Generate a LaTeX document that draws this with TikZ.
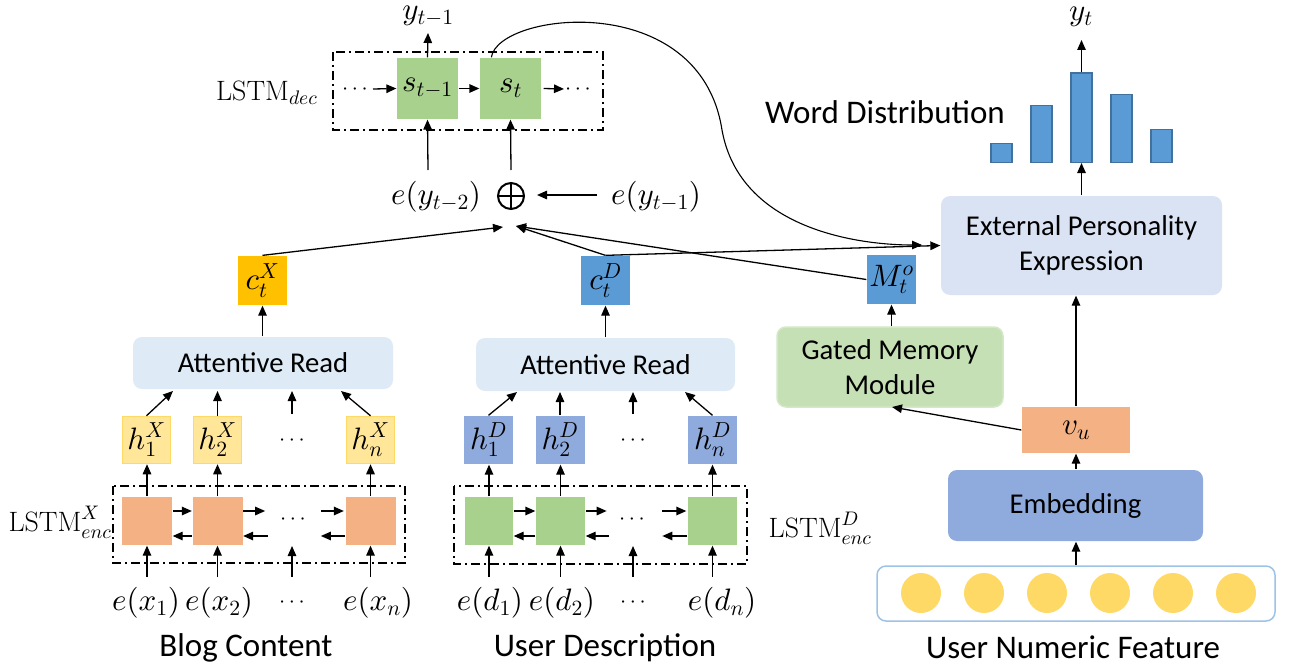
\documentclass[tikz,border=0pt]{standalone}
\usepackage{fontspec}
\DeclareFontShape{OML}{cmm}{m}{it}{<->cmmi10}{}
\DeclareFontShape{OMS}{cmsy}{m}{n}{<->cmsy10}{}
\DeclareFontShape{OMX}{cmex}{m}{n}{<->cmex10}{}
\DeclareFontShape{OT1}{cmr}{m}{n}{<->cmr10}{}
\newfontfamily\carl{Carlito}
\usetikzlibrary{arrows.meta}
\definecolor{sgreen}{HTML}{A9D18E}
\definecolor{arblue}{HTML}{DEEBF7}
\definecolor{epblue}{HTML}{DAE3F3}
\definecolor{midblue}{HTML}{5B9BD5}
\definecolor{bardraw}{HTML}{41719C}
\definecolor{embblue}{HTML}{8FAADC}
\definecolor{cxorange}{HTML}{FFC000}
\definecolor{lorange}{HTML}{F4B183}
\definecolor{hyellow}{HTML}{FFE699}
\definecolor{hyborder}{HTML}{FFD966}
\definecolor{gmmgreen}{HTML}{C5E0B4}
\definecolor{gmmborder}{HTML}{D3E8C6}
\definecolor{featborder}{HTML}{9DC3E6}
\definecolor{circfill}{HTML}{FFD966}
\begin{document}
\begin{tikzpicture}[x=1pt,y=-1pt,line width=1.3pt,
  >={Triangle[length=10pt,width=8.5pt]},
  mth/.style={font=\fontsize{31}{36}\selectfont, inner sep=0pt},
  dotsst/.style={font=\fontsize{22}{26}\selectfont, inner sep=0pt},
  lstmlbl/.style={font=\fontsize{28}{34}\selectfont, inner sep=0pt},
  txt/.style={font=\carl\fontsize{28.7}{34.5}\selectfont, align=center},
  bigtxt/.style={font=\carl\fontsize{33}{40}\selectfont, inner sep=0pt},
  sq/.style={minimum width=49pt, minimum height=49pt, inner sep=0pt, font=\fontsize{31}{36}\selectfont},
  dashbox/.style={draw, line width=2pt, dash pattern=on 9pt off 4pt on 2pt off 4pt},
  rbox/.style={rounded corners=9pt, inner sep=0pt},
  barbox/.style={fill=midblue, draw=bardraw, line width=1.5pt, minimum width=21pt, inner sep=0pt, anchor=south},
]
\useasboundingbox (0,0) rectangle (1290,669);

% ---------------- decoder ----------------
\draw[dashbox] (333,52) rectangle (603,130);
\node[sq, fill=sgreen, minimum width=61pt, minimum height=61pt] (s1) at (427.5,88.5) {$s_{t-1}$};
\node[sq, fill=sgreen, minimum width=61pt, minimum height=61pt] (s2) at (510.5,88.5) {$s_t$};
\node[dotsst] (dl) at (355,90) {$\cdots$};
\node[dotsst] (dr) at (578,90) {$\cdots$};
\node[lstmlbl, anchor=east] (ldec) at (318,93) {$\mathrm{LSTM}_{dec}$};
\node[mth] (ytm1) at (428,16) {$y_{t-1}$};
\coordinate (ytm1a) at (428,33);
\coordinate (dla) at (373,89);
\coordinate (dra) at (564,89);
\draw[->] (dla) -- (s1.west);
\draw[->] (s1.east) -- (s2.west);
\draw[->] ([xshift=2pt]s2.east) -- (dra);
\draw[->] (s1.north) -- (ytm1a);

\node[mth] (ey2) at (436,197) {$e(y_{t-2})$};
\node[mth] (ey1) at (656,197) {$e(y_{t-1})$};
\node[circle, draw, line width=2pt, minimum size=26pt, inner sep=0pt] (plus) at (511,196) {};
\draw[line width=2pt] (plus.north) -- (plus.south) (plus.west) -- (plus.east);
\coordinate (ey2a) at (428,170);
\coordinate (plusa) at (511,170);
\coordinate (ey1a) at (597,195);
\coordinate (plusr) at (537,195);
\draw[->] (ey2a) -- (s1.south);
\draw[->] (plusa) -- (s2.south);
\draw[->] (ey1a) -- (plusr);

% ---------------- context vectors ----------------
\node[sq, fill=cxorange] (cX) at (262.5,280.5) {$c_t^X$};
\node[sq, fill=midblue] (cD) at (605.5,280.5) {$c_t^D$};
\node[sq, fill=midblue] (M) at (891.5,279.5) {$M_t^o$};
\coordinate (pl) at (503,227);
\coordinate (pr) at (516,226);
\draw[->] (cX.north) -- (pl);
\draw[->] (cD.north) -- (pr);
\draw[->] (M.west) -- (pr);

% ---------------- EPE & distribution ----------------
\node[rbox, fill=epblue, minimum width=281pt, minimum height=99pt, txt] (EPE) at (1081.5,245.5) {External Personality\\[0pt]Expression};
\draw[->] (cD.north) -- (EPE.west);
\coordinate (curveend) at (922,245);
\draw[->, line width=1.1pt] ([xshift=12pt]s2.north west) .. controls (498,12) and (700,-12) .. (722,130)
   .. controls (740,230) and (860,245) .. (curveend);

\node[barbox, minimum height=19pt] (b1) at (1001.5,163) {};
\node[barbox, minimum height=57pt] (b2) at (1041.5,163) {};
\node[barbox, minimum height=89pt] (b3) at (1081.5,163) {};
\node[barbox, minimum height=68pt] (b4) at (1121.5,163) {};
\node[barbox, minimum height=33pt] (b5) at (1161.5,163) {};
\node[mth] (yt) at (1081,17) {$y_t$};
\coordinate (yta) at (1081.5,40);
\draw[->] (EPE.north) -- (b3.south);
\draw[->] (b3.north) -- (yta);
\node[bigtxt] (wd) at (885,112) {Word Distribution};

% ---------------- user numeric branch ----------------
\node[rbox, fill=gmmgreen, draw=gmmborder, line width=1.5pt, minimum width=226pt, minimum height=80pt, txt] (GMM) at (890,367) {Gated Memory\\[0pt]Module};
\node[sq, fill=lorange, minimum width=108pt, minimum height=46pt] (vu) at (1076,430) {$v_u$};
\node[rbox, fill=embblue, minimum width=255pt, minimum height=71pt, txt] (Emb) at (1075.5,505.5) {Embedding};
\node[rbox, draw=featborder, line width=1.5pt, fill=white, minimum width=398pt, minimum height=55pt] (Feat) at (1076,593.5) {};
\foreach \i in {0,...,5} {
  \node[circle, fill=circfill, minimum size=40pt, inner sep=0pt] (f\i) at (921+63*\i,593) {};
}
\node[bigtxt] (unf) at (1073,647) {User Numeric Feature};
\draw[->] (Feat.north) -- (Feat.north |- Emb.south);
\draw[->] (Emb.north -| vu.north) -- (vu.south);
\draw[->] (vu.north) -- (vu.north |- EPE.south);
\coordinate (gmmb) at (892,407);
\draw[->] (vu.west) -- (gmmb);
\draw[->] (GMM.north -| M.south) -- (M.south);

% ---------------- blog content encoder ----------------
\node[rbox, fill=arblue, minimum width=260pt, minimum height=52pt, txt] (AR1) at (263,363) {Attentive Read};
\draw[->] (AR1.north -| cX.south) -- (cX.south);
\draw[dashbox] (113,486) rectangle (405,563);
\node[sq, fill=lorange, minimum width=50pt, minimum height=48pt] (LX1) at (147,521) {};
\node[sq, fill=lorange, minimum width=50pt, minimum height=48pt] (LX2) at (217.5,521) {};
\node[sq, fill=lorange, minimum width=50pt, minimum height=48pt] (LXn) at (370.5,521) {};
\node[dotsst] (LXd) at (293,520) {$\cdots$};
\node[sq, fill=hyellow, draw=hyborder, line width=1.5pt, minimum width=48pt, minimum height=47pt] (hX1) at (146.5,440) {$h_1^X$};
\node[sq, fill=hyellow, draw=hyborder, line width=1.5pt, minimum width=48pt, minimum height=47pt] (hX2) at (217.5,440) {$h_2^X$};
\node[sq, fill=hyellow, draw=hyborder, line width=1.5pt, minimum width=48pt, minimum height=47pt] (hXn) at (370.5,440) {$h_n^X$};
\node[dotsst] (hXd) at (292,441) {$\cdots$};
\node[lstmlbl, anchor=east] (lx) at (112,522) {$\mathrm{LSTM}_{enc}^{X}$};
\draw[->] ([yshift=10pt]LX1.east) -- ([yshift=10pt]LX2.west);
\draw[->] ([yshift=-15pt]LX2.west) -- ([yshift=-15pt]LX1.east);
\draw[->] ([yshift=10pt]LX2.east) -- ([yshift=10pt,xshift=22pt]LX2.east);
\draw[->] ([yshift=-15pt,xshift=25pt]LX2.east) -- ([yshift=-15pt]LX2.east);
\draw[->] ([yshift=10pt,xshift=-24pt]LXn.west) -- ([yshift=10pt,xshift=-1pt]LXn.west);
\draw[->] ([yshift=-15pt]LXn.west) -- ([yshift=-15pt,xshift=-24pt]LXn.west);
\draw[->] (LX1.north) -- (hX1.south -| LX1.north);
\draw[->] (LX2.north) -- (hX2.south -| LX2.north);
\draw[->] (LXn.north) -- (hXn.south -| LXn.north);
\coordinate (ax1) at (173,391);
\coordinate (ax2) at (217.5,391);
\coordinate (axd) at (292,391);
\coordinate (axn) at (341,391);
\coordinate (hxdb) at (292,414);
\draw[->] (hX1.north) -- (ax1);
\draw[->] (hX2.north) -- (ax2);
\draw[->] (hxdb) -- (axd);
\draw[->] (hXn.north) -- (axn);
\node[mth] (ex1) at (146,603) {$e(x_1)$};
\node[mth] (ex2) at (219,603) {$e(x_2)$};
\node[dotsst] (exd) at (292,603) {$\cdots$};
\node[mth] (exn) at (378,603) {$e(x_n)$};
\coordinate (bx1) at (147,577);
\coordinate (bx2) at (217.5,577);
\coordinate (bxd) at (292,577);
\coordinate (bxdt) at (292,546);
\coordinate (bxn) at (370.5,577);
\draw[->] (bx1) -- (LX1.south);
\draw[->] (bx2) -- (LX2.south);
\draw[->] (bxd) -- (bxdt);
\draw[->] (bxn) -- (LXn.south);
\node[bigtxt] (blog) at (246,648) {Blog Content};

% ---------------- user description encoder ----------------
\node[rbox, fill=arblue, minimum width=259pt, minimum height=53pt, txt] (AR2) at (605.5,364.5) {Attentive Read};
\draw[->] (AR2.north -| cD.south) -- (cD.south);
\draw[dashbox] (454,486) rectangle (747,564);
\node[sq, fill=sgreen, minimum width=48pt, minimum height=48pt] (LD1) at (489,521) {};
\node[sq, fill=sgreen, minimum width=49pt, minimum height=48pt] (LD2) at (560.5,521) {};
\node[sq, fill=sgreen, minimum width=49pt, minimum height=48pt] (LDn) at (712.5,521) {};
\node[dotsst] (LDd) at (632,520) {$\cdots$};
\node[sq, fill=embblue, minimum width=49pt, minimum height=48pt] (hD1) at (488.5,440) {$h_1^D$};
\node[sq, fill=embblue, minimum width=49pt, minimum height=48pt] (hD2) at (560,440) {$h_2^D$};
\node[sq, fill=embblue, minimum width=49pt, minimum height=48pt] (hDn) at (712.5,440) {$h_n^D$};
\node[dotsst] (hDd) at (633,441) {$\cdots$};
\node[lstmlbl, anchor=west] (ld) at (768,528) {$\mathrm{LSTM}_{enc}^{D}$};
\draw[->] ([yshift=10pt]LD1.east) -- ([yshift=10pt]LD2.west);
\draw[->] ([yshift=-15pt]LD2.west) -- ([yshift=-15pt]LD1.east);
\draw[->] ([yshift=10pt]LD2.east) -- ([yshift=10pt,xshift=21pt]LD2.east);
\draw[->] ([yshift=-15pt,xshift=23pt]LD2.east) -- ([yshift=-15pt]LD2.east);
\draw[->] ([yshift=10pt,xshift=-25pt]LDn.west) -- ([yshift=10pt,xshift=-1pt]LDn.west);
\draw[->] ([yshift=-15pt]LDn.west) -- ([yshift=-15pt,xshift=-25pt]LDn.west);
\draw[->] (LD1.north) -- (hD1.south -| LD1.north);
\draw[->] (LD2.north) -- (hD2.south -| LD2.north);
\draw[->] (LDn.north) -- (hDn.south -| LDn.north);
\coordinate (ad1) at (517,392);
\coordinate (ad2) at (560,392);
\coordinate (add) at (633,392);
\coordinate (adn) at (685,392);
\coordinate (hddb) at (633,414);
\draw[->] (hD1.north) -- (ad1);
\draw[->] (hD2.north) -- (ad2);
\draw[->] (hddb) -- (add);
\draw[->] (hDn.north) -- (adn);
\node[mth] (ed1) at (490,603) {$e(d_1)$};
\node[mth] (ed2) at (562,603) {$e(d_2)$};
\node[dotsst] (edd) at (633,603) {$\cdots$};
\node[mth] (edn) at (722,603) {$e(d_n)$};
\coordinate (bd1) at (489,577);
\coordinate (bd2) at (560.5,577);
\coordinate (bdd) at (633,577);
\coordinate (bddt) at (633,546);
\coordinate (bdn) at (712.5,577);
\draw[->] (bd1) -- (LD1.south);
\draw[->] (bd2) -- (LD2.south);
\draw[->] (bdd) -- (bddt);
\draw[->] (bdn) -- (LDn.south);
\node[bigtxt] (udesc) at (605,648) {User Description};
\end{tikzpicture}
\end{document}
